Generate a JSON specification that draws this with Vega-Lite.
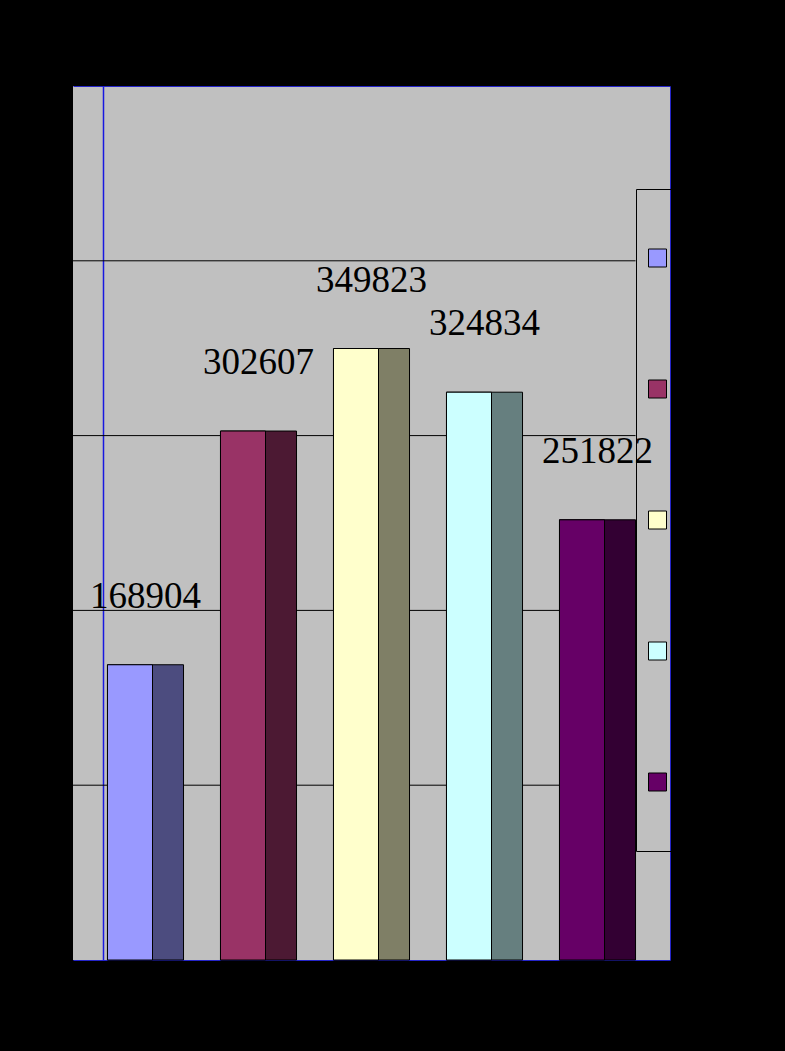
{
  "$schema": "https://vega.github.io/schema/vega-lite/v6.json",
  "width": 597,
  "height": 874,
  "autosize": "none",
  "padding": {"left": 73, "top": 86, "right": 115, "bottom": 91},
  "background": "black",
  "view": {"fill": "#C0C0C0", "stroke": null},
  "data": {
    "values": [
      {"category": "1", "value": 168904},
      {"category": "2", "value": 302607},
      {"category": "3", "value": 349823},
      {"category": "4", "value": 324834},
      {"category": "5", "value": 251822}
    ]
  },
  "encoding": {
    "x": {
      "field": "category",
      "type": "nominal",
      "scale": {"paddingInner": 0.327, "paddingOuter": 0.305},
      "axis": null
    },
    "y": {
      "field": "value",
      "type": "quantitative",
      "scale": {"domain": [0, 500000], "nice": false},
      "axis": null
    },
    "color": {
      "field": "category",
      "type": "nominal",
      "scale": {
        "domain": ["1", "2", "3", "4", "5"],
        "range": ["#9999FF", "#993366", "#FFFFCC", "#CCFFFF", "#660066"]
      },
      "legend": {
        "orient": "none",
        "legendX": 563,
        "legendY": 103,
        "title": null,
        "strokeColor": "black",
        "padding": 8,
        "symbolType": "square",
        "symbolSize": 324,
        "symbolOffset": 4,
        "symbolStrokeColor": "black",
        "symbolStrokeWidth": 1,
        "symbolOpacity": 1,
        "labelExpr": "''",
        "labelFontSize": 1,
        "labelOffset": 0,
        "clipHeight": 122,
        "rowPadding": 9
      }
    }
  },
  "layer": [
    {
      "data": {"values": [{"grid": 100000}, {"grid": 200000}, {"grid": 300000}, {"grid": 400000}]},
      "mark": {"type": "rule", "color": "black", "strokeWidth": 1},
      "encoding": {
        "x": {"datum": "1", "bandPosition": -0.454},
        "x2": {"datum": "5", "bandPosition": 1},
        "y": {"field": "grid", "type": "quantitative"},
        "color": {"value": "black"}
      }
    },
    {
      "mark": {"type": "bar", "stroke": "black", "strokeWidth": 1},
      "encoding": {
        "x": {
          "field": "category", "type": "nominal",
          "axis": {"orient": "top", "domainColor": "#2424C8", "domainOpacity": 1, "labels": false, "ticks": false, "grid": false, "title": null}
        },
        "y": {
          "field": "value", "type": "quantitative",
          "axis": {"orient": "right", "domainColor": "#2424C8", "domainOpacity": 1, "labels": false, "ticks": false, "grid": false, "title": null}
        }
      }
    },
    {
      "mark": {"type": "bar", "fill": "black", "fillOpacity": 0.5},
      "encoding": {"color": {"value": "black"}}
    },
    {
      "mark": {"type": "bar", "width": {"band": 0.592}, "xOffset": -15.5, "stroke": "black", "strokeWidth": 1},
      "encoding": {
        "x": {
          "field": "category", "type": "nominal",
          "axis": {"orient": "bottom", "domainColor": "#2424C8", "domainOpacity": 1, "labels": false, "ticks": false, "grid": false, "title": null}
        },
        "y": {
          "field": "value", "type": "quantitative",
          "axis": {
            "orient": "left", "offset": -30, "domainColor": "#1818E0", "domainOpacity": 1, "domainWidth": 1.5,
            "ticks": false, "grid": false, "title": null,
            "values": [0, 100000, 200000, 300000, 400000, 500000],
            "format": "d", "labelColor": "black", "labelPadding": 38, "labelFontSize": 12
          }
        }
      }
    },
    {
      "mark": {
        "type": "text", "font": "Liberation Serif", "fontSize": 37,
        "baseline": "middle", "dy": -68
      },
      "encoding": {
        "text": {"field": "value", "type": "quantitative", "format": "d"},
        "color": {"value": "black"}
      }
    }
  ],
  "resolve": {"axis": {"x": "independent", "y": "independent"}}
}
